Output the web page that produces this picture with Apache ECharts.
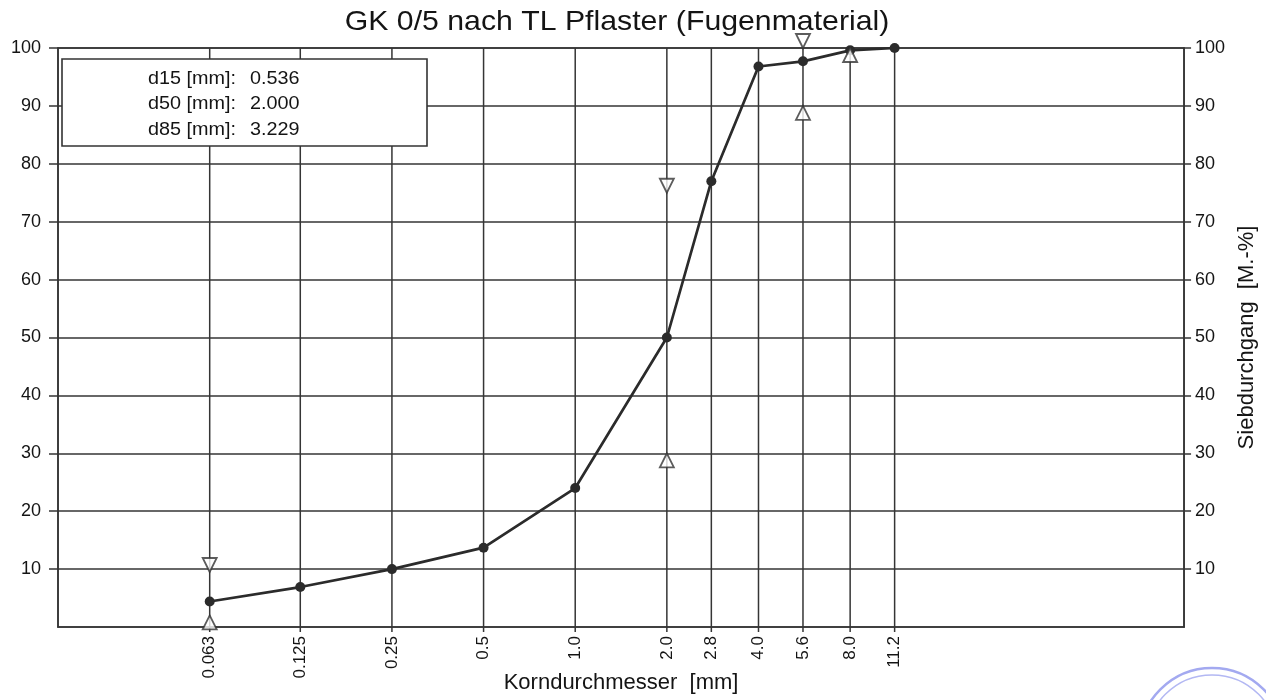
<!DOCTYPE html>
<html><head><meta charset="utf-8">
<script src="https://cdn.jsdelivr.net/npm/echarts@6/dist/echarts.min.js"></script>
<style>html,body{margin:0;padding:0;background:#fff}#c{width:1266px;height:700px}</style>
</head><body><div id="c"></div>
<script>
// ---- data ----
const chartTitle = 'GK 0/5 nach TL Pflaster (Fugenmaterial)';
const sieveSizes = [0.063, 0.125, 0.25, 0.5, 1.0, 2.0, 2.8, 4.0, 5.6, 8.0, 11.2];
const sieveLabels = ['0.063', '0.125', '0.25', '0.5', '1.0', '2.0', '2.8', '4.0', '5.6', '8.0', '11.2'];
const passing = [4.4, 6.9, 10, 13.7, 24, 50, 77, 96.8, 97.7, 99.6, 100];
const upperLimitSizes = [0.063, 2.0, 5.6];
const upperLimitValues = [9.5, 75, 100];
const lowerLimitSizes = [0.063, 2.0, 5.6, 8.0];
const lowerLimitValues = [2, 30, 90, 100];
const yTickValues = [10, 20, 30, 40, 50, 60, 70, 80, 90, 100];
const infoLabels = ['d15 [mm]:', 'd50 [mm]:', 'd85 [mm]:'];
const infoValues = ['0.536', '2.000', '3.229'];
const xAxisName = 'Korndurchmesser  [mm]';
const yAxisName = 'Siebdurchgang  [M.-%]';

const FONT = '"Liberation Sans", Arial, Helvetica, sans-serif';
const INK = '#141414';
const LINE = '#353535';

const chart = echarts.init(document.getElementById('c'), null, {renderer: 'canvas'});

const yAxisBase = {
  type: 'value', min: 0, max: 100, interval: 10,
  axisLine: {show: true, lineStyle: {color: LINE, width: 1.5}},
  axisTick: {show: true, length: 9, customValues: yTickValues, lineStyle: {color: LINE, width: 1.5}},
  axisLabel: {customValues: yTickValues, fontSize: 18, fontFamily: FONT, color: INK, margin: 17},
};

const option = {
  backgroundColor: '#fff',
  animation: false,
  grid: {left: 58, right: 79, top: 48, bottom: 73, show: true, borderColor: LINE, borderWidth: 1.6, backgroundColor: 'transparent'},
  xAxis: {
    type: 'log', logBase: 10, min: 0.02, max: 100,
    axisLine: {show: true, onZero: false, lineStyle: {color: LINE, width: 1.6}},
    axisTick: {show: false}, axisLabel: {show: false}, splitLine: {show: false}, minorTick: {show: false},
    name: xAxisName, nameLocation: 'middle', nameGap: 45,
    nameTextStyle: {fontSize: 22, fontFamily: FONT, color: INK}
  },
  yAxis: [
    Object.assign({}, yAxisBase, {
      position: 'left',
      splitLine: {show: true, lineStyle: {color: LINE, width: 1.5}}
    }),
    Object.assign({}, yAxisBase, {
      position: 'right',
      axisTick: {show: true, length: 7, customValues: yTickValues, lineStyle: {color: LINE, width: 1.5}},
      axisLabel: {customValues: yTickValues, fontSize: 18, fontFamily: FONT, color: INK, margin: 11},
      splitLine: {show: false},
      name: yAxisName, nameLocation: 'middle', nameRotate: 90, nameGap: 50,
      nameTextStyle: {fontSize: 22, fontFamily: FONT, color: INK}
    })
  ],
  series: [
    {
      type: 'custom', silent: true, clip: false, z: 1,
      data: sieveSizes.map(s => [s, 0]),
      encode: {x: 0, y: 1},
      renderItem: function (params, api) {
        const x = api.value(0);
        const top = api.coord([x, 100]);
        const bot = api.coord([x, 0]);
        return {
          type: 'group',
          children: [
            {type: 'line', shape: {x1: top[0], y1: top[1], x2: bot[0], y2: bot[1] + 5},
             style: {stroke: LINE, lineWidth: 1.5}},
            {type: 'text', x: bot[0], y: bot[1] + 9, rotation: Math.PI / 2,
             style: {text: sieveLabels[params.dataIndex], fill: INK, font: '17px ' + FONT,
                     align: 'right', verticalAlign: 'middle'}}
          ]
        };
      }
    },
    {
      type: 'line', z: 5,
      data: sieveSizes.map((s, i) => [s, passing[i]]),
      symbol: 'circle', symbolSize: 10,
      itemStyle: {color: '#2b2b2b'},
      lineStyle: {color: '#2b2b2b', width: 2.7}
    },
    {
      type: 'scatter', z: 6,
      data: upperLimitSizes.map((s, i) => [s, upperLimitValues[i]]),
      symbol: 'triangle', symbolSize: [14, 14], symbolRotate: 180, symbolOffset: [0, -7],
      itemStyle: {color: '#fff', borderColor: '#333', borderWidth: 1.8}
    },
    {
      type: 'scatter', z: 6,
      data: lowerLimitSizes.map((s, i) => [s, lowerLimitValues[i]]),
      symbol: 'triangle', symbolSize: [14, 14], symbolOffset: [0, 7],
      itemStyle: {color: '#fff', borderColor: '#333', borderWidth: 1.8}
    }
  ],
  graphic: [
    {type: 'text', x: 617, y: 22, scaleX: 1.08, z: 100,
     style: {text: chartTitle, fill: INK, font: '28px ' + FONT, align: 'center', verticalAlign: 'middle'}},
    {type: 'rect', z: 100, shape: {x: 62, y: 59, width: 365, height: 87},
     style: {fill: '#fff', stroke: '#333', lineWidth: 1.6}},
    ...infoLabels.map((t, i) => ({type: 'text', z: 101, x: 236, y: 79 + i * 25.5, scaleX: 1.1,
      style: {text: t, fill: INK, font: '18px ' + FONT, align: 'right', verticalAlign: 'middle'}})),
    ...infoValues.map((t, i) => ({type: 'text', z: 101, x: 250, y: 79 + i * 25.5, scaleX: 1.1,
      style: {text: t, fill: INK, font: '18px ' + FONT, align: 'left', verticalAlign: 'middle'}})),
    {type: 'circle', z: 0, shape: {cx: 1212, cy: 741, r: 73}, style: {fill: 'none', stroke: '#a3a9f0', lineWidth: 2.5}},
    {type: 'circle', z: 0, shape: {cx: 1212, cy: 741, r: 66}, style: {fill: 'none', stroke: '#b3b8f3', lineWidth: 1.5}}
  ]
};
chart.setOption(option);
</script>
</body></html>
